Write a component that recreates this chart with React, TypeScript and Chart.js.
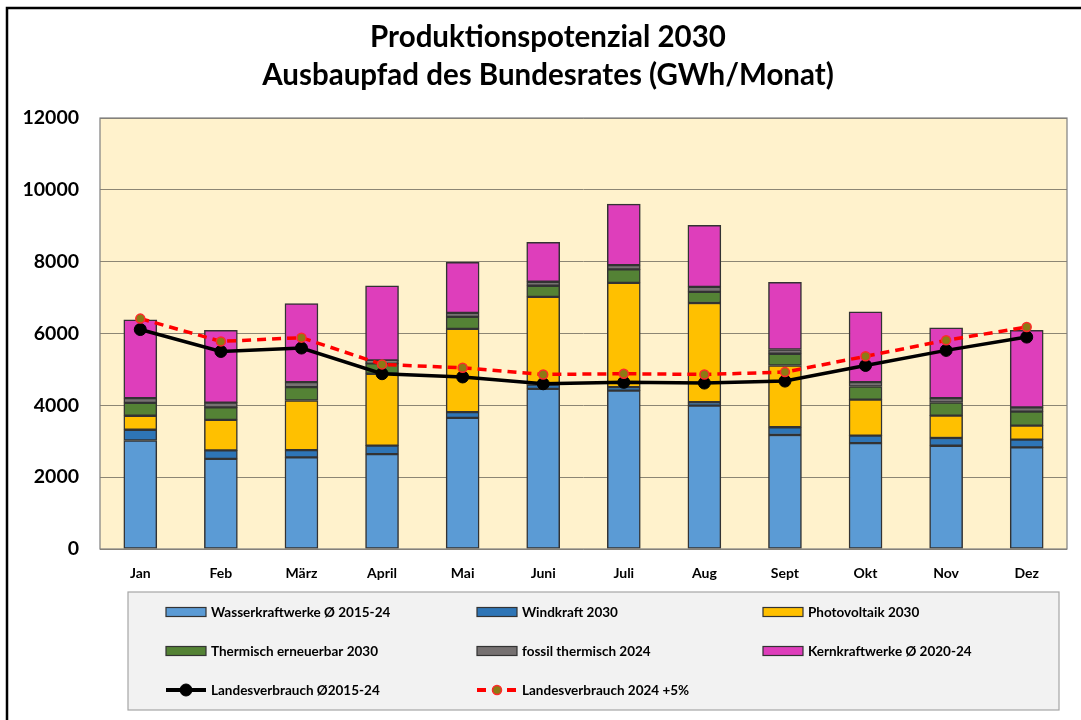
import React, { useEffect, useRef } from "react";
import { Chart, registerables } from "chart.js";

Chart.register(...registerables);

const months = ["Jan", "Feb", "März", "April", "Mai", "Juni", "Juli", "Aug", "Sept", "Okt", "Nov", "Dez"];
const wasser = [3020, 2510, 2550, 2640, 3650, 4460, 4410, 3990, 3175, 2950, 2875, 2830];
const wind = [300, 235, 205, 240, 160, 120, 95, 95, 215, 205, 215, 215];
const pv = [390, 850, 1380, 2000, 2320, 2440, 2905, 2765, 1720, 1005, 625, 390];
const therm = [360, 350, 370, 290, 335, 310, 375, 310, 325, 365, 365, 390];
const fossil = [130, 130, 140, 80, 110, 110, 120, 140, 120, 120, 120, 120];
const kern = [2180, 2010, 2190, 2080, 1405, 1100, 1695, 1715, 1870, 1955, 1955, 2140];
const verbrauch = [6110, 5500, 5595, 4880, 4790, 4600, 4640, 4620, 4675, 5110, 5530, 5900];
const verbrauch5 = [6415, 5780, 5885, 5140, 5045, 4860, 4880, 4860, 4925, 5365, 5810, 6180];
const yTicks = [0, 2000, 4000, 6000, 8000, 10000, 12000];

const titleLines = ["Produktionspotenzial 2030", "Ausbaupfad des Bundesrates (GWh/Monat)"];
const FONT = "Lato, 'Open Sans', sans-serif";

const barSeries = [
  { label: "Wasserkraftwerke Ø 2015-24", data: wasser, color: "#5B9BD5" },
  { label: "Windkraft 2030", data: wind, color: "#2E75B6" },
  { label: "Photovoltaik 2030", data: pv, color: "#FFC000" },
  { label: "Thermisch erneuerbar 2030", data: therm, color: "#548235" },
  { label: "fossil thermisch 2024", data: fossil, color: "#767171" },
  { label: "Kernkraftwerke Ø 2020-24", data: kern, color: "#DE3EBB" },
];

const legendOrder = [
  "Wasserkraftwerke Ø 2015-24", "Windkraft 2030", "Photovoltaik 2030",
  "Thermisch erneuerbar 2030", "fossil thermisch 2024", "Kernkraftwerke Ø 2020-24",
  "Landesverbrauch Ø2015-24", "Landesverbrauch 2024 +5%",
];

const decorPlugin = {
  id: "decor",
  beforeDraw(chart: any) {
    const { ctx, chartArea } = chart;
    ctx.save();
    ctx.fillStyle = "#ffffff";
    ctx.fillRect(0, 0, chart.width, chart.height);
    ctx.fillStyle = "#FFF2CC";
    ctx.fillRect(chartArea.left, chartArea.top, chartArea.right - chartArea.left, chartArea.bottom - chartArea.top);
    ctx.restore();
  },
  afterDraw(chart: any) {
    const { ctx, chartArea } = chart;
    ctx.save();
    // plot border
    ctx.strokeStyle = "#7f7f7f";
    ctx.lineWidth = 1.2;
    ctx.strokeRect(chartArea.left, chartArea.top, chartArea.right - chartArea.left, chartArea.bottom - chartArea.top);
    // outer frame
    ctx.strokeStyle = "#000000";
    ctx.lineWidth = 2.5;
    ctx.beginPath();
    ctx.moveTo(7, 720);
    ctx.lineTo(7, 8);
    ctx.lineTo(1081, 8);
    ctx.stroke();
    // title
    ctx.fillStyle = "#000000";
    ctx.textAlign = "center";
    ctx.textBaseline = "middle";
    ctx.font = `bold 29.5px ${FONT}`;
    ctx.fillText(titleLines[0], 548, 37);
    ctx.fillText(titleLines[1], 548, 75);
    // legend box
    ctx.fillStyle = "#F2F2F2";
    ctx.fillRect(128, 592, 931, 118);
    ctx.strokeStyle = "#A6A6A6";
    ctx.lineWidth = 1.2;
    ctx.strokeRect(128, 592, 931, 118);
    const colX = [166, 477, 763];
    const rowY = [612, 651, 690];
    const ds = chart.data.datasets;
    legendOrder.forEach((lbl, i) => {
      const d = ds.find((x: any) => x.label === lbl);
      if (!d) return;
      const x = colX[i % 3];
      const y = rowY[Math.floor(i / 3)];
      if (d.type === "line") {
        ctx.strokeStyle = d.borderColor;
        ctx.lineWidth = 4;
        ctx.setLineDash(d.borderDash || []);
        ctx.beginPath();
        ctx.moveTo(x, y);
        ctx.lineTo(x + 40, y);
        ctx.stroke();
        ctx.setLineDash([]);
        ctx.beginPath();
        ctx.arc(x + 20, y, d.pointRadius, 0, Math.PI * 2);
        ctx.fillStyle = d.pointBackgroundColor;
        ctx.fill();
        ctx.lineWidth = d.pointBorderWidth;
        ctx.strokeStyle = d.pointBorderColor;
        ctx.stroke();
      } else {
        ctx.fillStyle = d.backgroundColor;
        ctx.fillRect(x, y - 4.5, 40, 9);
        ctx.strokeStyle = "#333333";
        ctx.lineWidth = 1.2;
        ctx.strokeRect(x, y - 4.5, 40, 9);
      }
      ctx.fillStyle = "#000000";
      ctx.textAlign = "left";
      ctx.textBaseline = "middle";
      ctx.font = `bold 13.5px ${FONT}`;
      ctx.fillText(lbl, x + 45, y + 1);
    });
    ctx.restore();
  },
};

export default function App() {
  const ref = useRef<HTMLCanvasElement>(null);
  useEffect(() => {
    if (!ref.current) return;
    const datasets: any[] = barSeries.map((s) => ({
      type: "bar",
      label: s.label,
      data: s.data,
      backgroundColor: s.color,
      borderColor: "#333333",
      borderWidth: 1.5,
      borderSkipped: false,
      barThickness: 33,
      stack: "prod",
      order: 2,
    }));
    datasets.push({
      type: "line",
      label: "Landesverbrauch Ø2015-24",
      data: verbrauch,
      borderColor: "#000000",
      borderWidth: 3.5,
      pointRadius: 6,
      pointBackgroundColor: "#000000",
      pointBorderColor: "#000000",
      pointBorderWidth: 1,
      stack: "l1",
      order: 1,
      tension: 0,
    });
    datasets.push({
      type: "line",
      label: "Landesverbrauch 2024 +5%",
      data: verbrauch5,
      borderColor: "#FF0000",
      borderWidth: 3.5,
      borderDash: [9, 6],
      pointRadius: 4.5,
      pointBackgroundColor: "#8C7A14",
      pointBorderColor: "#FF2A2A",
      pointBorderWidth: 1.5,
      stack: "l2",
      order: 0,
      tension: 0,
    });
    const chart = new Chart(ref.current, {
      data: { labels: months, datasets },
      options: {
        animation: false,
        responsive: false,
        layout: { padding: { left: 0, top: 118, right: 14, bottom: 131 } },
        plugins: { legend: { display: false }, title: { display: false }, tooltip: { enabled: false } },
        scales: {
          x: {
            stacked: true,
            grid: { display: false, drawTicks: false },
            border: { display: false },
            ticks: { padding: 16, color: "#000", font: { family: FONT, size: 14, weight: "bold" } },
            afterFit: (a: any) => { a.height = 40; },
          },
          y: {
            stacked: true,
            min: 0,
            max: 12000,
            afterBuildTicks: (a: any) => { a.ticks = yTicks.map((v) => ({ value: v })); },
            grid: { color: "#8c8674", lineWidth: 1, drawTicks: false },
            border: { display: false },
            ticks: {
              padding: 21,
              color: "#000",
              font: { family: FONT, size: 19.5, weight: "bold" },
              callback: (v: any) => String(v),
            },
            afterFit: (a: any) => { a.width = 100; },
          },
        },
      } as any,
      plugins: [decorPlugin],
    });
    return () => chart.destroy();
  }, []);
  return (
    <div style={{ position: "fixed", left: 0, top: 0, width: 1081, height: 720, background: "#fff" }}>
      <canvas ref={ref} width={1081} height={720} style={{ display: "block", width: 1081, height: 720 }} />
    </div>
  );
}
